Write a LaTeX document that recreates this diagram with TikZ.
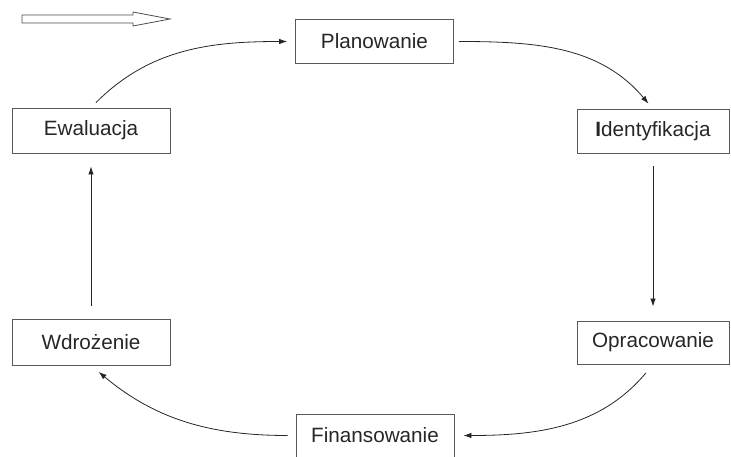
\documentclass[tikz,border=0pt]{standalone}
\usepackage{fontspec}
\setmainfont{Liberation Sans}
\usetikzlibrary{arrows.meta}
\tikzset{
	etap/.style={draw=black!65, line width=0.9pt, minimum width=158pt, minimum height=44pt, inner sep=0pt, text=black!85, font=\fontsize{20.7}{24}\selectfont},
	strz/.style={draw=black!85, line width=0.8pt, -{Latex[length=8pt,width=5.5pt]}},
}
\begin{document}
\begin{tikzpicture}[x=1pt, y=-1pt]
	\useasboundingbox (0,0) rectangle (731,457);
	% block arrow top left
	\draw[black!70, line width=0.8pt] (22,15) -- (133,15) -- (133,12) -- (170,19) -- (133,26) -- (133,23) -- (22,23) -- cycle;
	% stages
	\node[etap] (pla) at (374.5,41.5) {Planowanie};
	\node[etap, minimum width=152pt] (ide) at (653,131.5) {\textbf{I}dentyfikacja};
	\node[etap, minimum width=152pt, minimum height=43pt] (opr) at (653,342.5) {Opracowanie};
	\node[etap, minimum height=43pt] (fin) at (375,435.5) {Finansowanie};
	\node[etap, minimum height=46pt] (wdr) at (91,342) {Wdrożenie};
	\node[etap, minimum height=45pt] (ewa) at (91,130.5) {Ewaluacja};
	% cycle
	\draw[strz, shorten <=7pt, shorten >=8pt] (ewa.north) to[out=45,in=180] (pla.west);
	\draw[strz, shorten <=5pt, shorten >=7pt] (pla.east) to[out=0,in=130] (ide.north);
	\draw[strz, shorten <=12pt, shorten >=14pt] (ide.south) -- (opr.north);
	\draw[strz, shorten <=11pt, shorten >=9pt] (opr.south) to[out=-130,in=0] (fin.east);
	\draw[strz, shorten <=8pt, shorten >=10pt] (fin.west) to[out=180,in=-40] (wdr.south);
	\draw[strz, shorten <=13pt, shorten >=13pt] (wdr.north) -- (ewa.south);
\end{tikzpicture}
\end{document}
